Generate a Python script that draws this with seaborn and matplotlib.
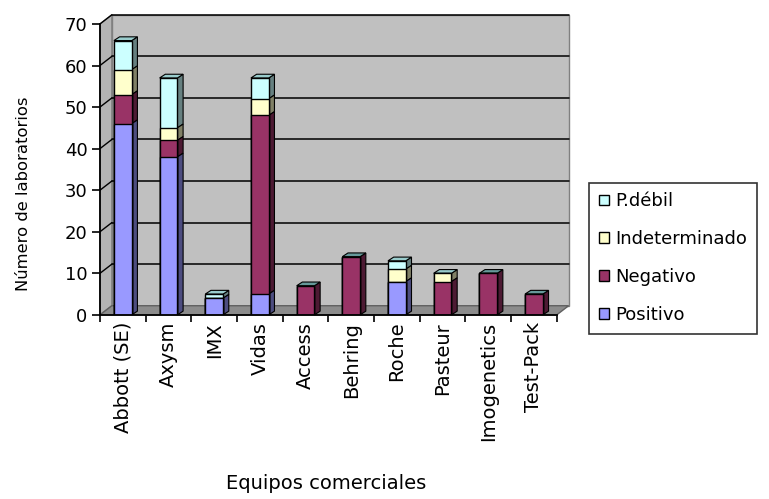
import matplotlib
matplotlib.use("Agg")
import matplotlib.pyplot as plt
import seaborn as sns
import numpy as np
import pandas as pd
from matplotlib.patches import Polygon
from matplotlib.lines import Line2D

categories = ["Abbott (SE)", "Axysm", "IMX", "Vidas", "Access", "Behring",
              "Roche", "Pasteur", "Imogenetics", "Test-Pack"]
positivo = [46, 38, 4, 5, 0, 0, 8, 0, 0, 0]
negativo = [7, 4, 0, 43, 7, 14, 0, 8, 10, 5]
indeterminado = [6, 3, 0, 4, 0, 0, 3, 2, 0, 0]
p_debil = [7, 12, 1, 5, 0, 0, 2, 0, 0, 0]
series_names = ["Positivo", "Negativo", "Indeterminado", "P.débil"]
colors = ["#9999FF", "#993366", "#FFFFCC", "#CCFFFF"]
y_ticks = [0, 10, 20, 30, 40, 50, 60, 70]

sns.set_theme(style="white")
plt.rcParams["font.family"] = ["DejaVu Sans"]
plt.rcParams["text.color"] = "black"
plt.rcParams["axes.labelcolor"] = "black"
plt.rcParams["xtick.color"] = "black"
plt.rcParams["ytick.color"] = "black"

fig = plt.figure(figsize=(7.69, 4.99), dpi=100)
ax = fig.add_axes([0.13, 0.369, 0.594, 0.583])
ax.set_facecolor("none")
ax.patch.set_visible(False)

n = len(categories)
series = [positivo, negativo, indeterminado, p_debil]
cum = np.cumsum(np.array(series), axis=0)
df = pd.DataFrame({"cat": categories})

# 3D box (back wall, side wall, floor) offsets in data units
wx, wy = 0.26, 2.2
x_lo, x_hi = -0.5, n - 0.5
wall = Polygon([(x_lo + wx, wy), (x_hi + wx, wy), (x_hi + wx, 70 + wy),
                (x_lo + wx, 70 + wy)], closed=True, facecolor="#C0C0C0",
               edgecolor="#808080", linewidth=1.0, zorder=0.5, clip_on=False)
side = Polygon([(x_lo, 0), (x_lo + wx, wy), (x_lo + wx, 70 + wy), (x_lo, 70)],
               closed=True, facecolor="#B4B4B4", edgecolor="#808080",
               linewidth=1.0, zorder=0.5, clip_on=False)
floor = Polygon([(x_lo, 0), (x_hi, 0), (x_hi + wx, wy), (x_lo + wx, wy)],
                closed=True, facecolor="#8C8C8C", edgecolor="#606060",
                linewidth=1.0, zorder=0.6, clip_on=False)
for p in (wall, side, floor):
    ax.add_patch(p)
for t in y_ticks[1:]:
    ax.add_line(Line2D([x_lo + wx, x_hi + wx], [t + wy, t + wy], color="black",
                       linewidth=1.1, zorder=0.7, clip_on=False))
    ax.add_line(Line2D([x_lo, x_lo + wx], [t, t + wy], color="black",
                       linewidth=1.0, zorder=0.7, clip_on=False))

# stacked bars: draw cumulative totals, top layer first
for i in range(len(series) - 1, -1, -1):
    df["v"] = cum[i]
    sns.barplot(data=df, x="cat", y="v", color=colors[i], width=0.39,
                edgecolor="black", linewidth=1.0, ax=ax, saturation=1,
                zorder=3, label=series_names[i])

def darken(c, f):
    r = matplotlib.colors.to_rgb(c)
    return tuple(v * f for v in r)

dx, dy = 0.125, 0.9
layer_patches = [p for p in ax.patches if p.get_zorder() == 3]
for li, i in enumerate(range(len(series) - 1, -1, -1)):
    for j, p in enumerate(layer_patches[li * n:(li + 1) * n]):
        h = p.get_height()
        x0 = p.get_x(); w = p.get_width()
        base = cum[i - 1][j] if i > 0 else 0
        if h - base <= 0:
            continue
        sp = Polygon([(x0 + w, base), (x0 + w + dx, base + dy),
                      (x0 + w + dx, h + dy), (x0 + w, h)],
                     closed=True, facecolor=darken(colors[i], 0.5),
                     edgecolor="black", linewidth=0.8, zorder=2.5,
                     clip_on=False)
        ax.add_patch(sp)
        if h == cum[-1][j]:
            tp = Polygon([(x0, h), (x0 + dx, h + dy), (x0 + w + dx, h + dy),
                          (x0 + w, h)], closed=True,
                         facecolor="#99CCCC" if i != 1 else "#66999A",
                         edgecolor="black", linewidth=0.8, zorder=2.6,
                         clip_on=False)
            ax.add_patch(tp)

ax.set_ylim(0, 70)
ax.set_xlim(x_lo, x_hi)
ax.set_yticks(y_ticks)

ax.set_xticks(range(n))
ax.set_xticklabels(categories, rotation=90, fontsize=14)
ax.tick_params(axis="x", length=0, pad=5)
ax.set_xticks(np.arange(-0.5, n, 1), minor=True)
ax.tick_params(axis="x", which="minor", length=5, width=1.2, color="black",
               bottom=True, direction="out")
ax.tick_params(axis="y", length=6, width=1.2, color="black", left=True,
               direction="out", labelsize=13, pad=3)

for s in ["top", "right"]:
    ax.spines[s].set_visible(False)
for s in ["left", "bottom"]:
    ax.spines[s].set_color("black")
    ax.spines[s].set_linewidth(1.3)
    ax.spines[s].set_zorder(4)

ax.set_ylabel("Número de laboratorios", fontsize=11.8)
ax.yaxis.set_label_coords(-0.15, 0.416)
ax.set_xlabel("")
fig.text(0.424, 0.02, "Equipos comerciales", fontsize=14, ha="center")

handles, labels = ax.get_legend_handles_labels()
leg = ax.legend(handles, labels, loc="upper left",
                bbox_to_anchor=(1.07, 0.455), fontsize=13, frameon=True,
                fancybox=False, edgecolor="black", handlelength=0.55,
                handleheight=0.55, handletextpad=0.35, labelspacing=1.1,
                borderpad=0.55, borderaxespad=0)
leg.get_frame().set_linewidth(1.2)

fig.savefig("out.png", dpi=100)
